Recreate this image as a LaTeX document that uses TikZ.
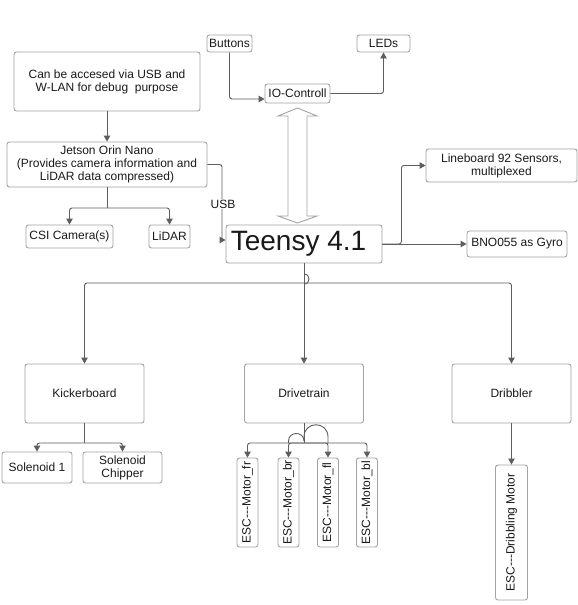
\documentclass[tikz,border=0pt]{standalone}
\usepackage{fontspec}
\setmainfont{Liberation Sans}
\usetikzlibrary{arrows.meta,calc}
\definecolor{edgec}{HTML}{5E5E5E}
\definecolor{boxc}{HTML}{A3A3A3}
\definecolor{txt}{HTML}{1A1A1A}
\tikzset{
 box/.style={draw=boxc, line width=0.9pt, rounded corners=2.5pt, inner sep=0pt, align=center, text=txt, fill=white, font=\fontsize{12}{13.2}\selectfont},
 edge/.style={draw=edgec, line width=0.9pt, rounded corners=2.5pt, -{Triangle[length=6pt,width=6.5pt]}},
 plain/.style={draw=edgec, line width=0.9pt},
 hollow/.style={draw=boxc, line width=0.9pt, fill=white},
 lbl/.style={fill=white, inner sep=1pt, text=txt, font=\fontsize{12}{13.2}\selectfont},
}
\begin{document}
\begin{tikzpicture}[x=1pt,y=-1pt]
\useasboundingbox (0,0) rectangle (578,605);
\fill[white] (0,0) rectangle (578,605);

% nodes
\node[box, minimum width=186pt, minimum height=59pt] (debug) at (107,81.5) {Can be accesed via USB and\\W-LAN for debug\ \ purpose};
\node[box, minimum width=200pt, minimum height=45pt] (jetson) at (107,164.5) {Jetson Orin Nano\\(Provides camera information and\\LiDAR data compressed)};
\node[box, minimum width=87pt, minimum height=23pt] (csi) at (69.5,236.5) {CSI Camera(s)};
\node[box, minimum width=41pt, minimum height=23pt] (lidar) at (169.5,236.5) {LiDAR};
\node[box, minimum width=45pt, minimum height=17pt] (buttons) at (229.5,43.5) {Buttons};
\node[box, minimum width=53pt, minimum height=17pt] (leds) at (383.5,43.5) {LEDs};
\node[box, minimum width=65pt, minimum height=19pt] (io) at (297.5,93.5) {IO-Controll};
\node[box, minimum width=151pt, minimum height=33pt] (lineboard) at (501.5,165.5) {Lineboard 92 Sensors,\\multiplexed};
\node[box, minimum width=156pt, minimum height=38pt, font=\fontsize{28}{32}\selectfont] (teensy) at (304,244) {Teensy 4.1\hspace*{11pt}};
\node[box, minimum width=100pt, minimum height=26pt] (bno) at (517,244) {BNO055 as Gyro};
\node[box, minimum width=119pt, minimum height=59pt] (kicker) at (84.5,393.5) {Kickerboard};
\node[box, minimum width=119pt, minimum height=59pt] (drive) at (304,393.5) {Drivetrain};
\node[box, minimum width=119pt, minimum height=59pt] (dribbler) at (511.5,393.5) {Dribbler};
\node[box, minimum width=70pt, minimum height=31pt] (sol1) at (37,467.5) {Solenoid 1};
\node[box, minimum width=79pt, minimum height=31pt] (solc) at (122.5,467.5) {Solenoid\\Chipper};
\node[box, rotate=90, minimum width=89pt, minimum height=21pt] (escfr) at (247.5,502.5) {ESC-{}-{}-Motor\_fr};
\node[box, rotate=90, minimum width=89pt, minimum height=21pt] (escbr) at (288.5,502.5) {ESC-{}-{}-Motor\_br};
\node[box, rotate=90, minimum width=89pt, minimum height=21pt] (escfl) at (328,502.5) {ESC-{}-{}-Motor\_fl};
\node[box, rotate=90, minimum width=89pt, minimum height=21pt] (escbl) at (367,502.5) {ESC-{}-{}-Motor\_bl};
\node[box, rotate=90, minimum width=135pt, minimum height=32pt] (escd) at (511.5,532.5) {ESC-{}-{}-Dribbling Motor};

% double arrow between IO-Controll and Teensy
\draw[hollow] (297.5,108) -- (317,116) -- (307,116) -- (307,216) -- (317,216) -- (297.5,223) -- (278,216) -- (288,216) -- (288,116) -- (278,116) -- cycle;

% connectors top
\draw[edge] (buttons.south) |- ([yshift=-5.5pt]io.west);
\draw[edge] (io.east) -| (leds.south);
\draw[edge] (debug.south) -- (jetson.north);
\coordinate (usbc) at (222,240);
\draw[plain, rounded corners=2.5pt] (jetson.east) -| (usbc);
\draw[edge] (usbc) -- (teensy.west |- usbc);
\node[lbl] (usb) at (223,204) {USB};
\coordinate (js) at (107,208);
\draw[plain] (jetson.south) -- (js);
\draw[edge] (js) -| (csi.north);
\draw[edge] (js) -| (lidar.north);

% Teensy right side
\draw[edge] (teensy.east) -- (bno.west);
\draw[edge] (teensy.east) -- ++(19,0) |- (lineboard.west);

% Teensy bottom
\coordinate (tj) at (304,283);
\draw[plain] (teensy.south) -- (tj);
\draw[edge] (tj) -| (kicker.north);
\draw[edge] (tj) -| (dribbler.north);
\draw[edge] (tj) -- (drive.north);
\draw[plain] (304,274) .. controls (310.7,274) and (310.7,284) .. (304,284);

% Kickerboard
\coordinate (kj) at (84.5,443);
\draw[plain] (kicker.south) -- (kj);
\draw[edge] (kj) -| (sol1.north);
\draw[edge] (kj) -| (solc.north);

% Drivetrain
\coordinate (dj) at (304,443);
\draw[plain] (drive.south) -- (dj);
\draw[edge] (dj) -| (escfr.east);
\draw[edge] (dj) -| (escbr.east);
\draw[edge] (dj) -| (escfl.east);
\draw[edge] (dj) -| (escbl.east);
\draw[plain] (304,441) .. controls (304,431) and (288.5,431) .. (288.5,441) -- (288.5,443);
\draw[plain] (304,437) .. controls (304,420.7) and (328,420.7) .. (328,437) -- (328,443);

% Dribbler
\draw[edge] (dribbler.south) -- (escd.east);
\end{tikzpicture}
\end{document}
